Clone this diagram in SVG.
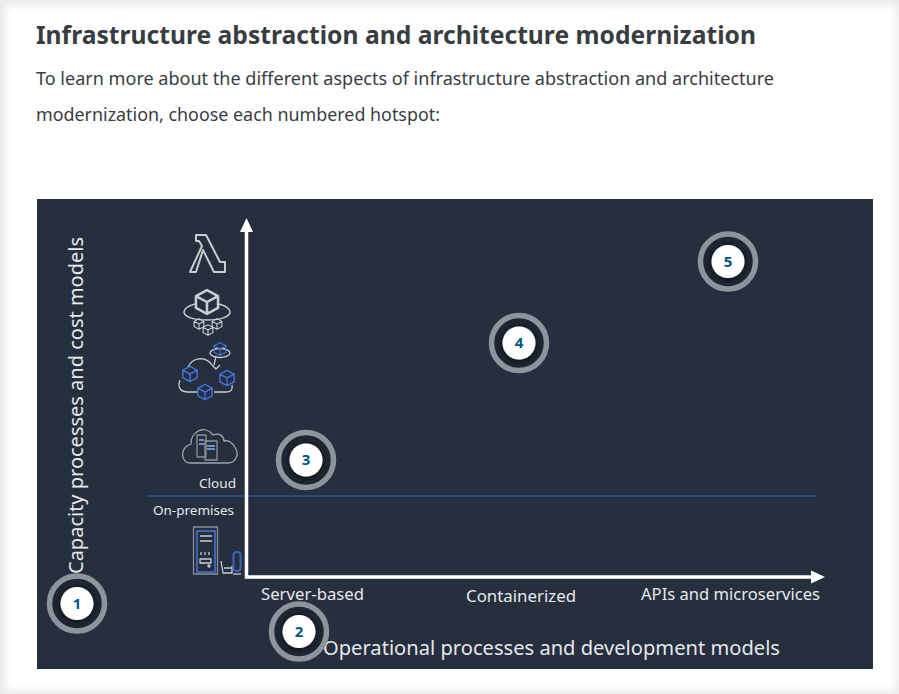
<svg xmlns="http://www.w3.org/2000/svg" width="899" height="694" viewBox="0 0 899 694">
<style>
.h{font-family:"Noto Sans","Open Sans",sans-serif}
.lab{font-family:"Noto Sans","Open Sans",sans-serif;fill:#e6e8ea}
.ring{fill:#1f2632;stroke:#8e949c;stroke-width:5.5}
.dot{fill:#fff;filter:url(#sh)}
.num{font-family:"Noto Sans","Open Sans",sans-serif;font-weight:700;font-size:15px;fill:#00567f;text-anchor:middle}
.ic{fill:none;stroke:#c9ccd0;stroke-width:1.300;stroke-linejoin:round}
.ib{fill:none;stroke:#4274dc;stroke-width:1.300;stroke-linejoin:round}
.ax{stroke:#fff;stroke-width:3.5;fill:none}
</style>
<defs>
<filter id="sh" x="-50%" y="-50%" width="200%" height="200%"><feDropShadow dx="0" dy="1" stdDeviation="3" flood-color="#000" flood-opacity=".7"/></filter>
<filter id="bl" x="-5%" y="-5%" width="110%" height="110%"><feGaussianBlur stdDeviation="3"/></filter>
<g id="cube"><path d="M0-7 6.500-3.500V3.500L0 7-6.500 3.500V-3.500ZM-6.500-3.500 0 0 6.500-3.500M0 0V7"/></g>
</defs>
<rect width="899" height="694" fill="#ececec"/>
<rect x="6" y="6" width="890" height="684" fill="#fff" filter="url(#bl)"/>
<g id="heading">
<text class="h" x="36" y="44" font-size="25" font-weight="700" fill="#383d42" textLength="720" lengthAdjust="spacingAndGlyphs">Infrastructure abstraction and architecture modernization</text>
<text class="h" x="36" y="85" font-size="18" fill="#383d42" textLength="738" lengthAdjust="spacingAndGlyphs">To learn more about the different aspects of infrastructure abstraction and architecture</text>
<text class="h" x="36" y="121" font-size="18" fill="#383d42" textLength="404" lengthAdjust="spacingAndGlyphs">modernization, choose each numbered hotspot:</text>
</g>
<rect id="panel" x="37" y="199" width="836" height="470" fill="#252f3e"/>
<g id="connectors">
<line x1="148" y1="496" x2="816" y2="496" stroke="#34538a" stroke-width="1.500"/>
<path class="ax" d="M246.500 228V577H812"/>
<path d="M246.500 218 253 232H240Z" fill="#fff"/>
<path d="M825 577 811 570.500V583.500Z" fill="#fff"/>
</g>
<g id="labels">
<text class="lab" transform="translate(83,574) rotate(-90)" font-size="19" textLength="337" lengthAdjust="spacingAndGlyphs">Capacity processes and cost models</text>
<text class="lab" x="323" y="655" font-size="20" textLength="457" lengthAdjust="spacingAndGlyphs">Operational processes and development models</text>
<text class="lab" x="261" y="600" font-size="16" textLength="103" lengthAdjust="spacingAndGlyphs">Server-based</text>
<text class="lab" x="466" y="602" font-size="16" textLength="110" lengthAdjust="spacingAndGlyphs">Containerized</text>
<text class="lab" x="641" y="600" font-size="16" textLength="179" lengthAdjust="spacingAndGlyphs">APIs and microservices</text>
<text class="lab" x="199" y="488" font-size="13" textLength="37" lengthAdjust="spacingAndGlyphs">Cloud</text>
<text class="lab" x="153" y="515" font-size="13" textLength="81" lengthAdjust="spacingAndGlyphs">On-premises</text>
</g>
<g id="icon-lambda"><path class="ic" style="stroke-width:2" d="M196 235H206L220 262H225V272H214L203 250 196 272H190L202 246 199 241H196Z"/></g>
<g id="icon-container" class="ic" style="stroke-width:1.500">
<use href="#cube" transform="translate(207,302) scale(1.700)"/>
<path d="M195 304C188 306 184 309 184 312C184 317 194 320 207 320S230 317 230 312C230 309 226 306 219 304"/>
<use href="#cube" transform="translate(199,324) scale(.75)"/><use href="#cube" transform="translate(208,330) scale(.75)"/><use href="#cube" transform="translate(217,324) scale(.75)"/>
</g>
<g id="icon-cluster">
<path class="ic" d="M188 367C192 358 205 355 212 365L216 369 220 365M180 380C177 388 181 392 188 392H198M214 392H226C231 392 233 390 232 385M216 356 214 365"/>
<ellipse class="ic" cx="220" cy="353" rx="10" ry="4.500"/>
<g class="ib"><use href="#cube" transform="translate(220,349) scale(.9)"/><use href="#cube" transform="translate(190,374) scale(1.100)"/><use href="#cube" transform="translate(227,378) scale(1.100)"/><use href="#cube" transform="translate(205,392) scale(1.100)"/></g>
</g>
<g id="icon-cloud"><path class="ic" style="stroke:#a0a5ab" d="M190 463C181 463 179 448 191 444C190 432 205 424 213 435C220 432 224 437 224 441C232 439 240 452 236 458 234 462 230 463 228 463Z"/>
<rect class="ic" style="stroke:#8f949a" x="197" y="435" width="9" height="22"/><rect class="ic" style="stroke:#8f949a" x="205" y="441" width="12" height="19"/><path class="ib" style="stroke:#6f8fc8;stroke-width:2" d="M199 440H204M199 444H204M207 446H215M207 449H215"/></g>
<g id="icon-server">
<rect class="ic" style="stroke:#8a8f96" x="193.500" y="527" width="24" height="47"/>
<rect class="ib" style="stroke-width:2;stroke:#3f63b8" x="197" y="531" width="18" height="41"/>
<path class="ic" d="M200 536H212M200 541H212M201 552V555M205 552V555M209 552V555"/><rect class="ic" x="200" y="559" width="11" height="4"/><circle class="ic" cx="209" cy="566" r="1"/>
<path class="ic" d="M221 561 223 573H232V566M224 568H232"/>
<rect class="ib" style="stroke-width:2;stroke:#3f63b8" x="233.500" y="552" width="7" height="19" rx="3"/>
<path class="ic" d="M233 574H241"/>
</g>
<g id="hotspot-1"><circle class="ring" cx="77" cy="603.500" r="27.500"/><circle class="dot" cx="77" cy="603.500" r="16.500"/><text class="num" x="77" y="608.500">1</text></g>
<g id="hotspot-2"><circle class="ring" cx="299" cy="631.500" r="27.500"/><circle class="dot" cx="299" cy="631.500" r="16.500"/><text class="num" x="299" y="636.500">2</text></g>
<g id="hotspot-3"><circle class="ring" cx="306" cy="460" r="27.500"/><circle class="dot" cx="306" cy="460" r="16.500"/><text class="num" x="306" y="465">3</text></g>
<g id="hotspot-4"><circle class="ring" cx="519" cy="343" r="27.500"/><circle class="dot" cx="519" cy="343" r="16.500"/><text class="num" x="519" y="348">4</text></g>
<g id="hotspot-5"><circle class="ring" cx="728" cy="261.500" r="27.500"/><circle class="dot" cx="728" cy="261.500" r="16.500"/><text class="num" x="728" y="266.500">5</text></g>
</svg>
